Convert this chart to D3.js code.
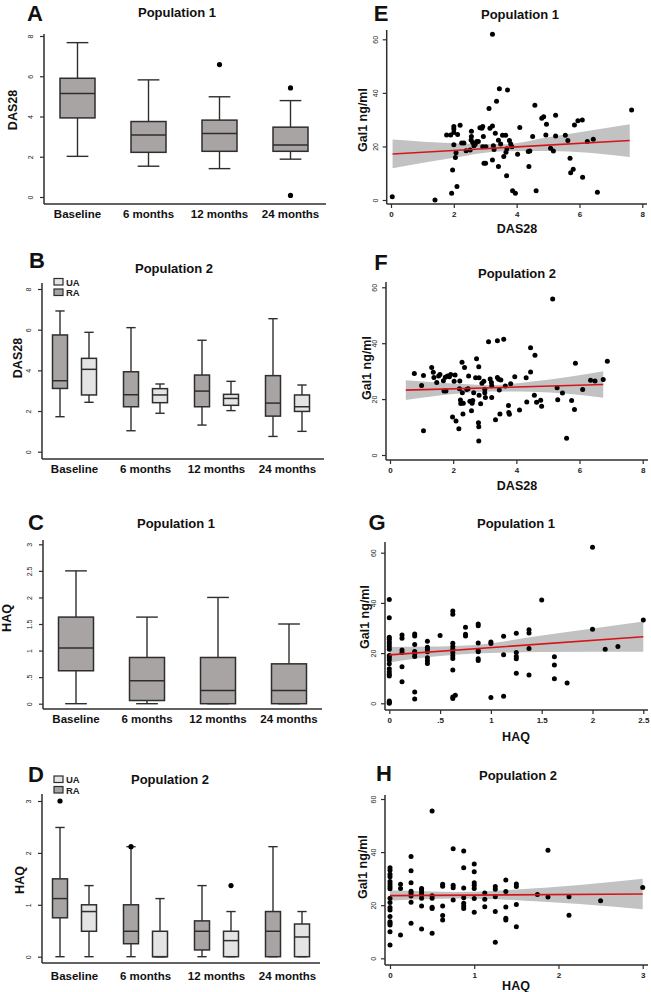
<!DOCTYPE html>
<html><head><meta charset="utf-8">
<script src="https://cdn.jsdelivr.net/npm/d3@7"></script>
<style>body{margin:0;background:#fff}svg{display:block}text{font-family:"Liberation Sans",Arial,sans-serif}</style>
</head><body><svg id="c" width="651" height="992"></svg>
<script>
const categories = ["Baseline","6 months","12 months","24 months"];
// each box: [low whisker, Q1, median, Q3, high whisker]
const aBoxes = [[2.02,3.93,5.14,5.9,7.67],[1.53,2.22,3.08,3.75,5.82],[1.41,2.27,3.15,3.82,4.98],[1.88,2.27,2.59,3.47,4.79]];
const aOutliers = [[2,6.58],[3,5.42],[3,0.08]];
const bRA = [[1.72,3.11,3.49,5.74,6.92],[1.03,2.21,2.8,3.93,6.1],[1.31,2.21,2.98,3.77,5.48],[0.75,1.75,2.39,3.74,6.54]];
const bUA = [[2.43,2.79,4.05,4.59,5.87],[1.89,2.41,2.79,3.1,3.33],[2.02,2.28,2.62,2.82,3.46],[1.0,1.98,2.21,2.79,3.28]];
const cBoxes = [[0,0.62,1.05,1.63,2.5],[0,0.06,0.43,0.87,1.63],[0,0,0.25,0.87,2.0],[0,0,0.25,0.75,1.5]];
const dRA = [[0,0.75,1.12,1.5,2.49],[0,0.25,0.49,1.0,2.12],[0,0.13,0.49,0.69,1.37],[0,0,0.49,0.87,2.12]];
const dUA = [[0,0.49,0.87,1.0,1.37],[0,0,0,0.49,1.12],[0,0,0.31,0.49,0.87],[0,0,0.38,0.63,0.87]];
const dOutliers = [[0,"RA",3.0],[1,"RA",2.12],[2,"UA",1.37]];

const das28Ticks = [0,2,4,6,8];
const haqTicks = [0,0.5,1,1.5,2,2.5,3];
const haqTickLabels = ["0",".5","1","1.5","2","2.5","3"];
const galTicks = [0,20,40,60];
const gXTicks = [0,0.5,1,1.5,2,2.5];
const gXTickLabels = ["0",".5","1","1.5","2","2.5"];
const hXTicks = [0,1,2,3];

// scatter: [DAS28 or HAQ, Gal1 ng/ml]
const ePoints = [[0.04,1.2],[1.4,0],[1.93,2.5],[1.96,11.2],[2.0,20.6],[1.77,24.3],[1.9,24.3],[2.0,26.5],[2.0,27.4],[2.0,25.2],[2.07,17.6],[2.05,15.9],[2.1,5.0],[2.12,24.5],[2.2,27.9],[2.25,21.3],[2.32,21.3],[2.39,18.4],[2.52,18.7],[2.55,22.4],[2.56,23.7],[2.56,25.7],[2.6,21.5],[2.64,20.3],[2.68,20.8],[2.73,21.8],[2.78,21.8],[2.83,27.0],[2.89,26.8],[2.92,27.4],[2.94,23.7],[2.92,19.9],[2.96,13.7],[3.01,13.7],[3.02,19.9],[3.12,34.2],[3.15,26.8],[3.23,27.6],[3.23,61.9],[3.23,14.9],[3.26,20.3],[3.28,18.9],[3.32,24.9],[3.36,36.9],[3.42,22.3],[3.42,12.5],[3.45,41.5],[3.49,20.9],[3.55,24.2],[3.59,16.2],[3.65,24.2],[3.66,17.8],[3.69,19.1],[3.68,9.1],[3.71,41.1],[3.77,22.2],[3.81,20.9],[3.85,19.9],[3.87,3.5],[3.96,2.5],[4.03,17.1],[4.1,27.1],[4.37,18.1],[4.39,12.5],[4.42,18.3],[4.51,23.7],[4.58,35.4],[4.62,3.5],[4.8,30.5],[4.86,31.1],[4.93,24.3],[4.95,28.3],[5.08,19.3],[5.17,18.3],[5.24,31.6],[5.24,23.9],[5.55,24.2],[5.63,22.2],[5.7,15.6],[5.72,10.2],[5.8,11.5],[5.84,28.0],[5.95,29.6],[6.09,29.9],[6.1,8.5],[6.25,21.8],[6.44,22.7],[6.57,2.9],[7.66,33.6]];
const fPoints = [[0.77,29.2],[1.0,24.9],[1.06,28.4],[1.06,8.7],[1.32,31.3],[1.37,29.6],[1.39,27.7],[1.48,25.9],[1.54,28.3],[1.58,28.8],[1.69,26.6],[1.71,22.9],[1.75,27.8],[1.77,22.9],[1.82,28.3],[1.88,28.0],[1.92,28.8],[1.98,13.6],[2.06,28.6],[2.03,26.4],[2.09,12.2],[2.18,9.4],[2.2,23.7],[2.21,26.5],[2.23,19.7],[2.24,18.4],[2.28,33.2],[2.29,22.3],[2.31,14.7],[2.32,18.5],[2.36,31.3],[2.43,23.4],[2.47,23.7],[2.49,28.3],[2.53,19.2],[2.58,15.8],[2.6,18.5],[2.62,19.5],[2.65,22.3],[2.71,27.6],[2.74,34.4],[2.81,31.6],[2.82,27.6],[2.82,21.4],[2.8,11.5],[2.81,10.1],[2.81,5.0],[2.87,18.3],[2.91,25.7],[2.97,26.4],[3.0,23.5],[3.0,22.3],[3.02,20.6],[3.12,40.5],[3.17,27.2],[3.21,25.9],[3.22,24.8],[3.22,20.6],[3.34,12.6],[3.4,40.9],[3.4,27.7],[3.44,27.1],[3.46,23.3],[3.48,14.7],[3.51,26.8],[3.6,41.4],[3.65,24.7],[3.75,17.7],[3.76,15.2],[3.78,14.6],[3.82,25.5],[3.95,28.0],[4.1,16.1],[4.31,27.6],[4.33,19.0],[4.45,38.4],[4.45,29.7],[4.57,21.4],[4.59,35.7],[4.64,18.9],[4.77,19.6],[4.8,17.4],[5.15,55.8],[5.29,24.1],[5.31,19.8],[5.46,22.2],[5.59,6.0],[5.75,19.5],[5.84,16.3],[5.87,32.8],[6.1,23.4],[6.35,26.7],[6.49,26.5],[6.75,27.0],[6.88,33.5]];
const gPoints = [[0,41.4],[0,34.1],[0,26.3],[0,25.5],[0,24.4],[0,23.6],[0,22.6],[0,21.5],[0,19.0],[0,18.2],[0,17.3],[0,15.8],[0,13.8],[0,12.6],[0,11.6],[0,10.9],[0,0.9],[0,0],[0,0.4],
 [0.125,27.2],[0.125,25.9],[0.125,21.2],[0.125,20.2],[0.125,14.6],[0.125,8.6],
 [0.25,27.6],[0.25,26.8],[0.25,23.4],[0.25,20.6],[0.25,19.8],[0.25,18.6],[0.25,4.5],[0.25,1.7],
 [0.375,24.7],[0.375,22.3],[0.375,21.5],[0.375,20.5],[0.375,18.1],[0.375,17.0],[0.375,15.9],
 [0.5,27.0],
 [0.625,36.8],[0.625,35.5],[0.625,23.9],[0.625,22.6],[0.625,21.5],[0.625,20.2],[0.625,18.9],[0.625,17.8],[0.625,13.3],[0.625,1.9],[0.625,2.5],[0.65,3.2],
 [0.75,30.3],[0.75,27.5],[0.75,26.8],
 [0.875,31.6],[0.875,30.9],[0.875,24.0],[0.875,21.0],[0.875,20.5],[0.875,17.7],[0.875,17.1],
 [1,24.4],[1,23.8],[1,2.3],
 [1.125,26.7],[1.125,19.3],[1.125,2.8],
 [1.25,27.9],[1.25,20.2],[1.25,18.6],[1.25,17.7],[1.25,12.0],
 [1.375,29.3],[1.375,28.0],[1.375,21.8],[1.375,11.3],
 [1.5,41.2],
 [1.625,18.5],[1.625,15.3],[1.625,9.8],
 [1.75,8.1],
 [2,62.2],[2,29.5],
 [2.125,21.5],[2.25,22.6],[2.5,33.2]];
const hPoints = [[0,34.1],[0,33.2],[0,31.7],[0,30.7],[0,28.9],[0,28.0],[0,27.0],[0,26.2],[0,22.6],[0,21.0],[0,19.1],[0,18.2],[0,15.7],[0,13.8],[0,13.2],[0,12.5],[0,10.0],[0,5.0],
 [0.125,27.9],[0.125,26.3],[0.125,8.8],
 [0.25,38.3],[0.25,33.0],[0.25,28.5],[0.25,25.3],[0.25,24.5],[0.25,23.5],[0.25,21.1],[0.25,13.2],
 [0.375,26.3],[0.375,25.7],[0.375,24.8],[0.375,23.8],[0.375,22.6],[0.375,19.7],[0.375,11.0],
 [0.5,55.5],[0.5,23.6],[0.5,22.6],[0.5,19.2],[0.5,18.8],[0.5,9.4],
 [0.625,27.9],[0.625,27.1],[0.625,19.7],[0.625,16.1],[0.625,14.4],
 [0.75,41.3],[0.75,27.5],[0.75,26.6],[0.75,22.0],
 [0.875,40.4],[0.875,34.1],[0.875,26.5],[0.875,22.8],[0.875,20.7],[0.875,19.7],[0.875,18.8],
 [1,35.5],[1,32.6],[1,28.5],[1,27.5],[1,26.3],[1,22.5],[1,17.3],
 [1.125,24.6],[1.125,22.2],[1.125,19.4],
 [1.25,27.0],[1.25,26.0],[1.25,23.2],[1.25,17.6],[1.25,6.0],
 [1.375,29.5],[1.375,25.2],[1.375,19.3],[1.375,15.1],[1.375,14.4],
 [1.5,28.0],[1.5,27.0],[1.5,20.3],[1.5,11.9],
 [1.75,24.0],[1.875,40.7],[1.875,23.1],[2.125,23.2],[2.125,16.2],[2.5,21.7],[3,26.7]];

// fitted line [x, y] and confidence band [x, low, high]
const eFit = [[0.05,17.2],[7.6,22.2]];
const eBand = [[0.05,11.9,22.6],[2,15.8,21.2],[3.6,18.2,20.8],[5,18.3,23.4],[7.6,16.1,28.3]];
const fFit = [[0.5,23.2],[6.75,25.2]];
const fBand = [[0.5,19.7,26.7],[2,21.8,25.6],[3.2,22.7,25.0],[4.5,22.6,26.3],[6.75,20.5,30.0]];
const gFit = [[0,19.3],[2.5,26.5]];
const gBand = [[0,16.3,22.4],[0.5,18.8,22.6],[0.8,19.7,23.1],[1.5,20.4,27.0],[2.5,20.5,32.6]];
const hFit = [[0,23.6],[3,24.2]];
const hBand = [[0,21.7,25.6],[0.8,22.5,25.0],[1.5,21.9,25.9],[3,18.5,30.0]];

const svg = d3.select("#c");
const RA_FILL = "#a8a4a4", UA_FILL = "#e4e4e4", STROKE = "#2e2e2e";

function txt(x, y, s, size, opts = {}) {
  const t = svg.append("text").attr("x", x).attr("y", y).text(s)
    .attr("font-size", size).attr("font-weight", opts.weight || "bold")
    .attr("text-anchor", opts.anchor || "middle").attr("fill", "#111");
  if (opts.rotate) t.attr("transform", `rotate(-90,${x},${y})`);
  return t;
}

function drawBox(g, y, cx, w, s, fill) {
  const [lo, q1, med, q3, hi] = s;
  const cw = w * 0.62;
  g.append("line").attr("x1", cx).attr("x2", cx).attr("y1", y(hi)).attr("y2", y(q3)).attr("stroke", STROKE).attr("stroke-width", 1.4);
  g.append("line").attr("x1", cx).attr("x2", cx).attr("y1", y(q1)).attr("y2", y(lo)).attr("stroke", STROKE).attr("stroke-width", 1.4);
  g.append("line").attr("x1", cx - cw/2).attr("x2", cx + cw/2).attr("y1", y(hi)).attr("y2", y(hi)).attr("stroke", STROKE).attr("stroke-width", 1.4);
  g.append("line").attr("x1", cx - cw/2).attr("x2", cx + cw/2).attr("y1", y(lo)).attr("y2", y(lo)).attr("stroke", STROKE).attr("stroke-width", 1.4);
  g.append("rect").attr("x", cx - w/2).attr("y", y(q3)).attr("width", w).attr("height", Math.max(0.01, y(q1) - y(q3)))
    .attr("fill", fill).attr("stroke", STROKE).attr("stroke-width", 1.5);
  g.append("line").attr("x1", cx - w/2).attr("x2", cx + w/2).attr("y1", y(med)).attr("y2", y(med)).attr("stroke", STROKE).attr("stroke-width", 1.5);
}

function boxAxes(g, cfg, x, y) {
  const ax = d3.axisLeft(y).tickValues(cfg.ticks).tickFormat((d, i) => cfg.tickLabels ? cfg.tickLabels[i] : d).tickSize(4).tickSizeOuter(0);
  const yg = g.append("g").attr("transform", `translate(${cfg.axX},0)`).call(ax);
  yg.select(".domain").remove();
  yg.selectAll(".tick line").attr("stroke", STROKE).attr("stroke-width", 1.2);
  yg.selectAll(".tick text").attr("transform", "rotate(-90)").attr("x", 0).attr("y", -11).attr("dy", 0)
    .attr("text-anchor", "middle").attr("font-size", 7).attr("fill", "#222").attr("font-family", "Liberation Sans, Arial");
  g.append("line").attr("x1", cfg.axX).attr("x2", cfg.axX).attr("y1", cfg.axTop).attr("y2", cfg.axY).attr("stroke", STROKE).attr("stroke-width", 1.5);
  g.append("line").attr("x1", cfg.axX).attr("x2", cfg.axRight).attr("y1", cfg.axY).attr("y2", cfg.axY).attr("stroke", STROKE).attr("stroke-width", 1.5);
  categories.forEach(c => {
    g.append("text").attr("x", x(c) + x.bandwidth()/2).attr("y", cfg.labelY).text(c)
      .attr("font-size", 11.5).attr("font-weight", "bold").attr("text-anchor", "middle").attr("fill", "#111");
  });
}

function singleBoxPanel(cfg, boxes, outliers) {
  const g = svg.append("g");
  const x = d3.scaleBand().domain(categories).range(cfg.xr);
  const y = d3.scaleLinear().domain(cfg.yd).range(cfg.yr);
  boxAxes(g, cfg, x, y);
  boxes.forEach((s, i) => drawBox(g, y, x(categories[i]) + x.bandwidth()/2, 35, s, RA_FILL));
  (outliers || []).forEach(o => g.append("circle").attr("cx", x(categories[o[0]]) + x.bandwidth()/2).attr("cy", y(o[1])).attr("r", 2.6).attr("fill", "#000"));
}

function pairedBoxPanel(cfg, ra, ua, outliers) {
  const g = svg.append("g");
  const x = d3.scaleBand().domain(categories).range(cfg.xr);
  const y = d3.scaleLinear().domain(cfg.yd).range(cfg.yr);
  boxAxes(g, cfg, x, y);
  const off = { RA: -14.5, UA: 14.5 };
  ra.forEach((s, i) => drawBox(g, y, x(categories[i]) + x.bandwidth()/2 + off.RA, 15, s, RA_FILL));
  ua.forEach((s, i) => drawBox(g, y, x(categories[i]) + x.bandwidth()/2 + off.UA, 15, s, UA_FILL));
  (outliers || []).forEach(o => g.append("circle").attr("cx", x(categories[o[0]]) + x.bandwidth()/2 + off[o[1]]).attr("cy", y(o[2])).attr("r", 2.6).attr("fill", "#000"));
  // legend
  [["UA", UA_FILL], ["RA", RA_FILL]].forEach((d, i) => {
    const ly = cfg.legY + i * 10.5;
    g.append("rect").attr("x", 54).attr("y", ly).attr("width", 9).attr("height", 6.5).attr("fill", d[1]).attr("stroke", STROKE).attr("stroke-width", 1.2);
    g.append("text").attr("x", 66).attr("y", ly + 7).text(d[0]).attr("font-size", 9.5).attr("font-weight", "bold").attr("fill", "#222");
  });
}

function scatterPanel(cfg, pts, fit, band) {
  const g = svg.append("g");
  const x = d3.scaleLinear().domain(cfg.xd).range(cfg.xr);
  const y = d3.scaleLinear().domain([0, 60]).range(cfg.yr);
  // band
  const area = d3.area().x(d => x(d[0])).y0(d => y(d[1])).y1(d => y(d[2])).curve(d3.curveMonotoneX);
  g.append("path").datum(band).attr("d", area).attr("fill", "#c2c2c2");
  // points
  g.selectAll(null).data(pts).join("circle").attr("cx", d => x(d[0])).attr("cy", d => y(d[1])).attr("r", 2.5).attr("fill", "#000");
  // fit
  g.append("path").datum(fit).attr("d", d3.line().x(d => x(d[0])).y(d => y(d[1]))).attr("stroke", "#d4161c").attr("stroke-width", 1.6).attr("fill", "none");
  // axes
  const ya = d3.axisLeft(y).tickValues(galTicks).tickSize(4).tickSizeOuter(0);
  const yg = g.append("g").attr("transform", `translate(${cfg.axX},0)`).call(ya);
  yg.select(".domain").remove();
  yg.selectAll(".tick line").attr("stroke", STROKE).attr("stroke-width", 1.2);
  yg.selectAll(".tick text").attr("transform", "rotate(-90)").attr("x", 0).attr("y", -9).attr("dy", 0)
    .attr("text-anchor", "middle").attr("font-size", 7).attr("fill", "#222");
  g.append("line").attr("x1", cfg.axX).attr("x2", cfg.axX).attr("y1", cfg.axTop).attr("y2", cfg.axY).attr("stroke", STROKE).attr("stroke-width", 1.5);
  const xa = d3.axisBottom(x).tickValues(cfg.xTicks).tickFormat((d, i) => cfg.xTickLabels ? cfg.xTickLabels[i] : d).tickSize(4).tickSizeOuter(0);
  const xg = g.append("g").attr("transform", `translate(0,${cfg.axY})`).call(xa);
  xg.select(".domain").remove();
  xg.selectAll(".tick line").attr("stroke", STROKE).attr("stroke-width", 1.2);
  xg.selectAll(".tick text").attr("font-size", 8).attr("font-weight", "bold").attr("fill", "#222").attr("y", 7);
  g.append("line").attr("x1", cfg.axX).attr("x2", cfg.axRight).attr("y1", cfg.axY).attr("y2", cfg.axY).attr("stroke", STROKE).attr("stroke-width", 1.5);
}

// Panel A
singleBoxPanel({xr: [42, 326], yd: [0, 8], yr: [197, 36], ticks: das28Ticks, axX: 44, axTop: 34, axY: 204, axRight: 326, labelY: 218}, aBoxes, aOutliers);
txt(35, 21, "A", 22, {});
txt(177, 17, "Population 1", 13);
txt(17, 110, "DAS28", 12.5, {rotate: true});

// Panel B
pairedBoxPanel({xr: [39, 323], yd: [0, 8], yr: [451.7, 289], ticks: das28Ticks, axX: 42, axTop: 283, axY: 459, axRight: 324, labelY: 473, legY: 278.5}, bRA, bUA);
txt(37, 268, "B", 22, {});
txt(174, 273, "Population 2", 13);
txt(22, 358, "DAS28", 12.5, {rotate: true});

// Panel C
singleBoxPanel({xr: [40.5, 324.5], yd: [0, 3], yr: [703.7, 544.3], ticks: haqTicks, tickLabels: haqTickLabels, axX: 43, axTop: 540, axY: 709, axRight: 322, labelY: 723}, cBoxes);
txt(36, 530, "C", 22, {});
txt(176, 528, "Population 1", 13);
txt(11, 618, "HAQ", 12.5, {rotate: true});

// Panel D
pairedBoxPanel({xr: [39, 323], yd: [0, 3], yr: [956.7, 801], ticks: haqTicks.filter(d => d % 1 === 0), axX: 42, axTop: 794, axY: 963, axRight: 320, labelY: 980, legY: 776}, dRA, dUA, dOutliers);
txt(36, 782, "D", 22, {});
txt(170, 784, "Population 2", 13);
txt(24, 880, "HAQ", 12.5, {rotate: true});

// Panel E
scatterPanel({xd: [0, 8], xr: [391, 642.3], yr: [200, 39.3], axX: 386.7, axTop: 30, axY: 204, axRight: 647, xTicks: das28Ticks}, ePoints, eFit, eBand);
txt(381, 21, "E", 22, {});
txt(520, 19, "Population 1", 13);
txt(367, 120, "Gal1 ng/ml", 12.5, {rotate: true});
txt(517, 233, "DAS28", 12.5);

// Panel F
scatterPanel({xd: [0, 8], xr: [390, 642.7], yr: [455, 287.3], axX: 386, axTop: 282, axY: 460, axRight: 648, xTicks: das28Ticks}, fPoints, fFit, fBand);
txt(381, 270, "F", 22, {});
txt(517, 278, "Population 2", 13);
txt(371, 368, "Gal1 ng/ml", 12.5, {rotate: true});
txt(517, 490, "DAS28", 12.5);

// Panel G
scatterPanel({xd: [0, 2.5], xr: [389.3, 643.3], yr: [703.3, 552.7], axX: 385, axTop: 542, axY: 710, axRight: 648, xTicks: gXTicks, xTickLabels: gXTickLabels}, gPoints, gFit, gBand);
txt(377, 530, "G", 22, {});
txt(516, 528, "Population 1", 13);
txt(369, 617, "Gal1 ng/ml", 12.5, {rotate: true});
txt(516, 741, "HAQ", 12.5);

// Panel H
scatterPanel({xd: [0, 3], xr: [390, 642.7], yr: [958.3, 799], axX: 385, axTop: 795, axY: 965, axRight: 648, xTicks: hXTicks}, hPoints, hFit, hBand);
txt(384, 781, "H", 22, {});
txt(518, 780, "Population 2", 13);
txt(367, 867, "Gal1 ng/ml", 12.5, {rotate: true});
txt(516, 990, "HAQ", 12.5);
</script></body></html>
